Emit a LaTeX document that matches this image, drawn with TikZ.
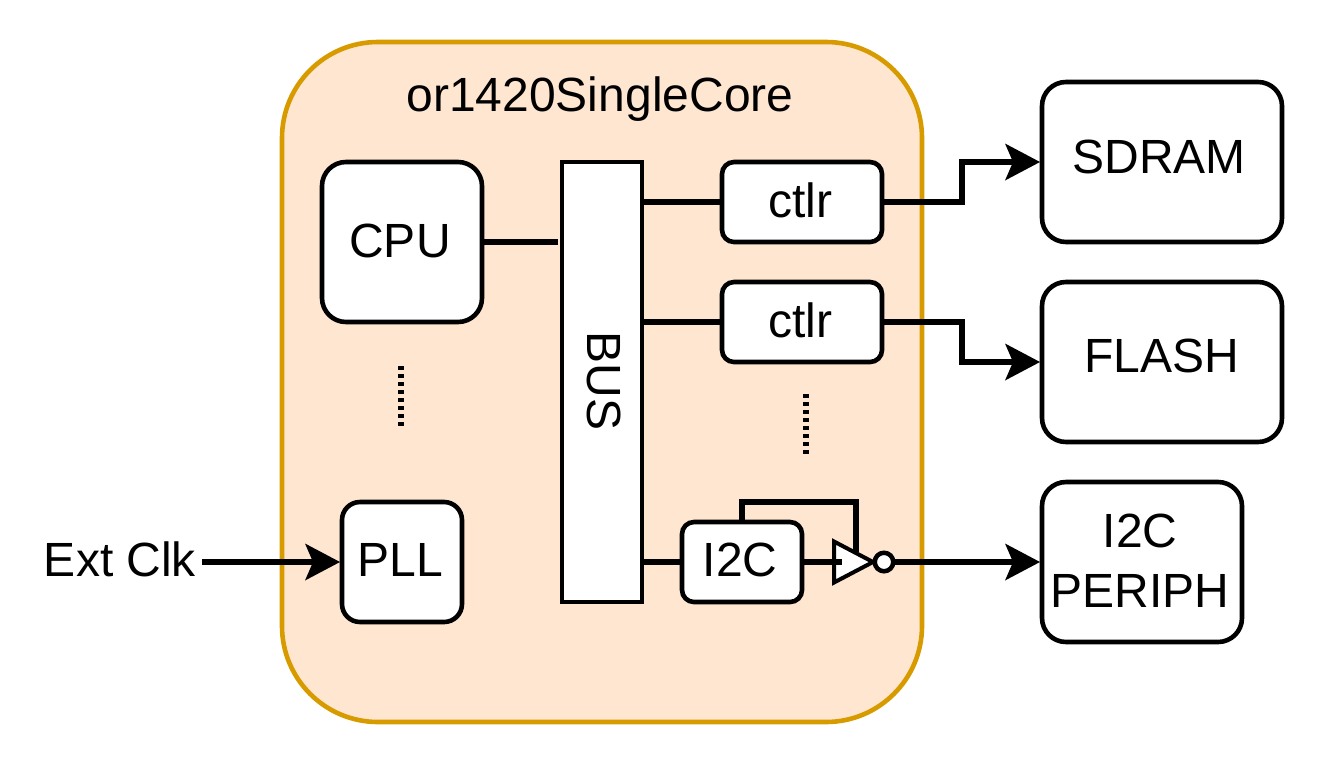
\documentclass[tikz,border=0pt]{standalone}
\usepackage{fontspec}
\setmainfont{Liberation Sans}
\usetikzlibrary{arrows.meta,shapes.geometric}
\definecolor{corefill}{RGB}{255,230,208}
\definecolor{coreline}{RGB}{215,155,0}
\tikzset{
  x=1pt,y=-1pt,
  every node/.style={font=\fontsize{48}{55}\selectfont},
  box/.style={draw=black,line width=4.6pt,fill=white,rectangle,inner sep=0pt,outer sep=0pt},
  lbl/.style={label distance=0pt,inner sep=0pt,text height=34pt,text depth=1pt},
  wire/.style={draw=black,line width=5.2pt},
  arrowwire/.style={wire,shorten >=2pt,-{Stealth[length=35pt,width=37pt,inset=8pt,line width=0pt]}},
  dots/.style={draw=black,line width=5.2pt,dash pattern=on 4pt off 4pt},
  thinwire/.style={draw=black,line width=5.1pt},
  gate/.style={draw=black,fill=white,line width=4pt,line join=miter}
}
\newcommand{\boxat}[8]{%
  \node[box,rounded corners=#6pt,minimum width={(#4-#2)*1pt},minimum height={(#5-#3)*1pt},
        label={[lbl,xshift=#7]center:#8}] (#1) at ({(#2+#4)/2},{(#3+#5)/2}) {};
}
\begin{document}
\begin{tikzpicture}
\useasboundingbox (0,0) rectangle (1324,764);
\node[box,draw=coreline,fill=corefill,rounded corners=96pt,minimum width=640pt,minimum height=680pt,
  label={[lbl,xshift=-2pt,yshift=287pt]center:or1420SingleCore}] (core) at (602,382) {};
\boxat{cpu}{322}{162}{482}{322}{24}{-2pt,yshift=1pt}{CPU}
\node[box,minimum width=80pt,minimum height=440pt] (bus) at (602,382) {};
\node[rotate=-90,inner sep=0pt,text height=34pt,text depth=1pt] (bustext) at (604,381) {BUS};
\boxat{ctlrA}{722}{162}{882}{242}{12}{-2pt,yshift=1pt}{ctlr}
\boxat{ctlrB}{722}{282}{882}{362}{12}{-2pt,yshift=1pt}{ctlr}
\boxat{iic}{682}{522}{802}{602}{12}{-2pt,yshift=2pt}{I2C}
\boxat{pll}{342}{502}{462}{622}{18}{-2pt,yshift=2pt}{PLL}
\boxat{sdram}{1042}{82}{1282}{242}{24}{-3pt,yshift=5pt}{SDRAM}
\boxat{flash}{1042}{282}{1282}{442}{24}{0pt,yshift=6pt}{FLASH}
\node[box,rounded corners=24pt,minimum width=200pt,minimum height=160pt] (periph) at (1142,562) {};
\node[align=center,inner sep=0pt,font=\fontsize{48}{60}\selectfont] (periphtext) at (1140,561) {I2C\\PERIPH};
\node[inner sep=0pt] (ext) at (120,559) {Ext Clk};
\coordinate (extout) at (202,562);
\coordinate (busin) at (558,242);
\coordinate (bendA) at (962,202);
\coordinate (bendAb) at (962,162);
\coordinate (bendB) at (962,322);
\coordinate (bendBb) at (962,362);
\coordinate (fbA) at (742,502);
\coordinate (fbB) at (856,502);
\coordinate (fbC) at (856,552);
\coordinate (wireend) at (842,562);
\coordinate (sdramin) at (1042,162);
\coordinate (flashin) at (1042,362);
\coordinate (dotA) at (401,366);
\coordinate (dotAb) at (401,426);
\coordinate (dotB) at (806,394);
\coordinate (dotBb) at (806,454);
\draw[wire] (cpu.east) -- (busin);
\draw[wire] (bus.east |- ctlrA.west) -- (ctlrA.west);
\draw[wire] (bus.east |- ctlrB.west) -- (ctlrB.west);
\draw[wire] (bus.east |- iic.west) -- (iic.west);
\draw[arrowwire] (ctlrA.east) -- (bendA) -- (bendAb) -- (sdramin);
\draw[arrowwire] (ctlrB.east) -- (bendB) -- (bendBb) -- (flashin);
\draw[arrowwire] (extout) -- (pll.west);
\draw[dots] (dotA) -- (dotAb);
\draw[dots] (dotB) -- (dotBb);
\draw[thinwire] (iic.north) -- (fbA) -- (fbB) -- (fbC);
\node[draw=black,fill=white,line width=4.5pt,circle,inner sep=0pt,outer sep=0pt,minimum size=18.5pt] (bubble) at (884,562) {};
\draw[gate] (834,541.5) -- (873,562) -- (834,582.5) -- cycle;
\draw[arrowwire] (bubble.east) -- (periph.west);
\draw[thinwire] (iic.east) -- (wireend);
\end{tikzpicture}
\end{document}
